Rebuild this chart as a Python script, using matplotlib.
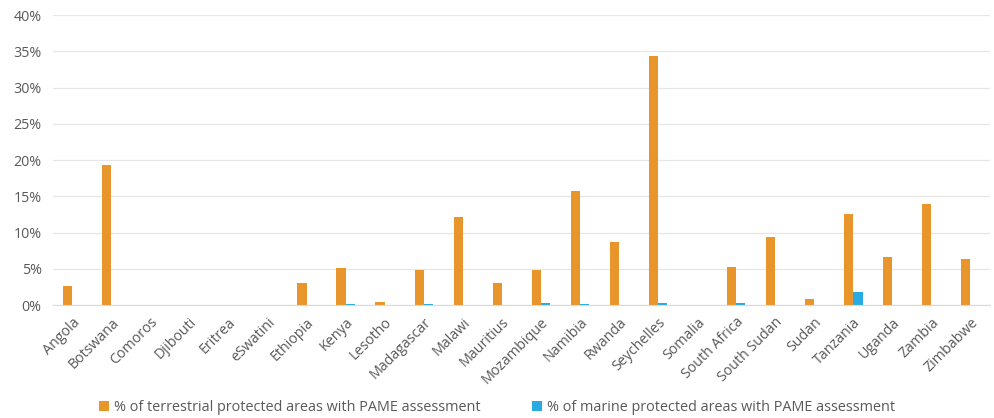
import matplotlib
matplotlib.use("Agg")
import matplotlib.pyplot as plt
import numpy as np
from matplotlib.ticker import FuncFormatter, MultipleLocator

countries = ["Angola", "Botswana", "Comoros", "Djibouti", "Eritrea", "eSwatini",
             "Ethiopia", "Kenya", "Lesotho", "Madagascar", "Malawi", "Mauritius",
             "Mozambique", "Namibia", "Rwanda", "Seychelles", "Somalia",
             "South Africa", "South Sudan", "Sudan", "Tanzania", "Uganda",
             "Zambia", "Zimbabwe"]
terrestrial = [2.6, 19.3, 0, 0, 0, 0, 3.0, 5.1, 0.4, 4.8, 12.1, 3.0,
               4.8, 15.7, 8.7, 34.3, 0, 5.2, 9.4, 0.9, 12.6, 6.6, 14.0, 6.3]
marine = [0, 0, 0, 0, 0, 0, 0, 0.1, 0, 0.15, 0, 0,
          0.35, 0.1, 0, 0.3, 0, 0.25, 0, 0, 1.8, 0, 0, 0]
series_names = ["% of terrestrial protected areas with PAME assessment",
                "% of marine protected areas with PAME assessment"]

plt.rcParams['font.family'] = ['Open Sans', 'DejaVu Sans']
txt = '#595959'

fig = plt.figure(figsize=(9.94, 4.18), dpi=100)
ax = fig.add_axes([0.053, 0.270, 0.943, 0.694])

x = np.arange(len(countries))
w = 0.235
ax.bar(x - w / 2, terrestrial, w, color='#E8952B', label=series_names[0])
ax.bar(x + w / 2, marine, w, color='#29ABE2', label=series_names[1])

ax.set_xlim(-0.5, len(countries) - 0.5)
ax.set_ylim(0, 40)
ax.yaxis.set_major_locator(MultipleLocator(5))
ax.yaxis.set_major_formatter(FuncFormatter(lambda v, p: f"{v:.0f}%"))
ax.grid(axis='y', color='#E6E6E6', linewidth=0.9)
ax.set_axisbelow(True)
for s in ['top', 'right', 'left']:
    ax.spines[s].set_visible(False)
ax.spines['bottom'].set_color('#D9D9D9')
ax.tick_params(axis='both', length=0, colors=txt, labelsize=10.3)
ax.set_xticks(x)
ax.set_xticklabels(countries, rotation=45, ha='right', rotation_mode='anchor')
ax.tick_params(axis='x', pad=7)
ax.tick_params(axis='y', pad=8)

fig.legend(loc='center', bbox_to_anchor=(0.5, 0.026), ncol=2, frameon=False,
           fontsize=10.4, labelcolor=txt, handlelength=0.7, handleheight=0.7,
           handletextpad=0.3, columnspacing=3.6)

fig.savefig('out.png', dpi=100)
